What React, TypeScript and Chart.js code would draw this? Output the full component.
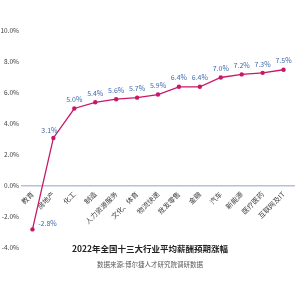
import React, { useEffect, useRef } from "react";
import { Chart, registerables } from "chart.js";

Chart.register(...registerables);

const categories = ["教育", "房地产", "化工", "制造", "人力资源服务", "文化、体育", "物流快递", "批发零售", "金融", "汽车", "新能源", "医疗医药", "互联网及IT"];
const values = [-2.8, 3.1, 5.0, 5.4, 5.6, 5.7, 5.9, 6.4, 6.4, 7.0, 7.2, 7.3, 7.5];
const yTicks = [-4, -2, 0, 2, 4, 6, 8, 10];
const title = "2022年全国十三大行业平均薪酬预期涨幅";
const source = "数据来源:博尔捷人才研究院调研数据";

const FONT = "'Noto Sans CJK SC', 'Noto Sans', sans-serif";

const labelPlugin = {
  id: "labels",
  afterDatasetsDraw(chart: any) {
    const ctx = chart.ctx;
    const meta = chart.getDatasetMeta(0);
    ctx.save();
    ctx.font = `7px ${FONT}`;
    ctx.fillStyle = "#3F6AB0";
    ctx.textAlign = "center";
    ctx.textBaseline = "middle";
    meta.data.forEach((pt: any, i: number) => {
      let dx = 0, dy = -9;
      if (i === 0) { dx = 15; dy = -6; }
      else if (i === 1) { dx = -4; dy = -8; }
      ctx.fillText(values[i].toFixed(1) + "%", pt.x + dx, pt.y + dy);
    });
    ctx.restore();
  },
  afterDraw(chart: any) {
    const ctx = chart.ctx;
    ctx.save();
    ctx.textAlign = "center";
    ctx.textBaseline = "middle";
    ctx.fillStyle = "#222222";
    ctx.font = `bold 8.5px ${FONT}`;
    ctx.fillText(title, 150, 249);
    ctx.fillStyle = "#595959";
    ctx.font = `6.5px ${FONT}`;
    ctx.fillText(source, 150, 265);
    ctx.restore();
  },
};

export default function App() {
  const ref = useRef<HTMLCanvasElement>(null);
  useEffect(() => {
    if (!ref.current) return;
    const chart = new Chart(ref.current, {
      type: "line",
      data: {
        labels: categories,
        datasets: [
          {
            data: values,
            borderColor: "#C8176A",
            backgroundColor: "#C8176A",
            borderWidth: 1.3,
            pointRadius: 2.2,
            pointBackgroundColor: "#C8176A",
            pointBorderWidth: 0,
            tension: 0,
          },
        ],
      },
      options: {
        responsive: false,
        animation: false,
        layout: { padding: { top: 31, bottom: 47, left: 0, right: 0 } },
        plugins: { legend: { display: false }, tooltip: { enabled: false }, title: { display: false } },
        scales: {
          x: {
            position: { y: 0 } as any,
            offset: true,
            grid: { display: false, drawTicks: false },
            border: { display: true, color: "#B4C0DC", width: 1.5 },
            ticks: {
              color: "#404040",
              font: { size: 7, family: FONT },
              maxRotation: 45,
              minRotation: 45,
              autoSkip: false,
              padding: 4,
            },
          },
          y: {
            min: -4,
            max: 10,
            afterBuildTicks: (axis: any) => {
              axis.ticks = yTicks.map((v) => ({ value: v }));
            },
            afterFit: (axis: any) => {
              axis.width = 22;
            },
            grid: { display: false, drawTicks: false },
            border: { display: false },
            ticks: {
              color: "#404040",
              font: { size: 6.5, family: FONT },
              padding: 3,
              callback: (v: any) => Number(v).toFixed(1) + "%",
            },
          },
        },
      },
      plugins: [labelPlugin],
    });
    return () => chart.destroy();
  }, []);
  return (
    <div style={{ position: "absolute", left: 0, top: 0, width: 298, height: 295 }}>
      <canvas ref={ref} width={298} height={295} style={{ display: "block" }} />
    </div>
  );
}
